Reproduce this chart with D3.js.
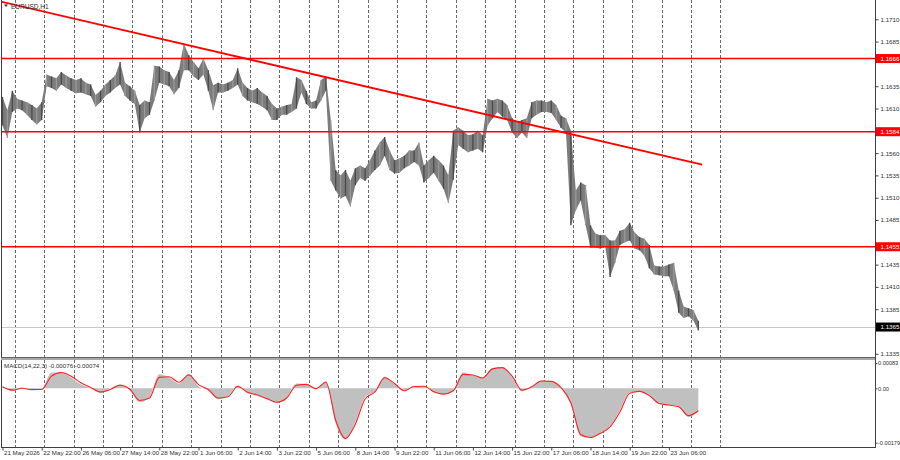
<!DOCTYPE html>
<html>
<head>
<meta charset="utf-8">
<title>EURUSD H1</title>
<script src="https://d3js.org/d3.v7.min.js"></script>
<style>
    body { margin: 0; background: #fff; }
    svg text { font-family: "Liberation Sans", Arial, sans-serif; }
</style>
</head>
<body>
<script>
    // 4-hour groups of H1 bars, 21 May 14:00 .. 23 Jun
    const priceHigh = [
        1.1623, 1.1608, 1.1630, 1.1621, 1.1619, 1.1617, 1.1614, 1.1610, 1.1617, 1.1648,
        1.1646, 1.1644, 1.1651, 1.1647, 1.1644, 1.1642, 1.1644, 1.1639, 1.1637, 1.1625,
        1.1630, 1.1637, 1.1642, 1.1647, 1.1662, 1.1639, 1.1635, 1.1630, 1.1614, 1.1619,
        1.1617, 1.1658, 1.1657, 1.1653, 1.1651, 1.1642, 1.1653, 1.1683, 1.1670, 1.1662,
        1.1655, 1.1666, 1.1653, 1.1636, 1.1639, 1.1637, 1.1639, 1.1642, 1.1655, 1.1639,
        1.1633, 1.1630, 1.1633, 1.1628, 1.1624, 1.1615, 1.1610, 1.1612, 1.1614, 1.1615,
        1.1645, 1.1642, 1.1630, 1.1617, 1.1619, 1.1642, 1.1646, 1.1597, 1.1541, 1.1535,
        1.1541, 1.1529, 1.1543, 1.1546, 1.1543, 1.1552, 1.1563, 1.1572, 1.1578, 1.1563,
        1.1552, 1.1554, 1.1557, 1.1563, 1.1563, 1.1572, 1.1546, 1.1552, 1.1557, 1.1552,
        1.1546, 1.1535, 1.1585, 1.1589, 1.1585, 1.1580, 1.1581, 1.1585, 1.1580, 1.1621,
        1.1619, 1.1621, 1.1619, 1.1614, 1.1599, 1.1594, 1.1597, 1.1599, 1.1617, 1.1619,
        1.1619, 1.1617, 1.1619, 1.1614, 1.1602, 1.1599, 1.1585, 1.1518, 1.1527, 1.1524,
        1.1479, 1.1470, 1.1468, 1.1468, 1.1462, 1.1462, 1.1473, 1.1475, 1.1482, 1.1471,
        1.1466, 1.1464, 1.1457, 1.1434, 1.1433, 1.1433, 1.1435, 1.1437, 1.1406, 1.1388,
        1.1386, 1.1384, 1.1372
    ];
    const priceLow = [
        1.1591, 1.1577, 1.1606, 1.1610, 1.1608, 1.1603, 1.1597, 1.1592, 1.1597, 1.1635,
        1.1633, 1.1630, 1.1637, 1.1633, 1.1630, 1.1627, 1.1628, 1.1626, 1.1624, 1.1612,
        1.1617, 1.1624, 1.1628, 1.1633, 1.1637, 1.1624, 1.1619, 1.1615, 1.1583, 1.1599,
        1.1603, 1.1619, 1.1639, 1.1637, 1.1635, 1.1626, 1.1633, 1.1653, 1.1653, 1.1646,
        1.1642, 1.1648, 1.1630, 1.1608, 1.1628, 1.1628, 1.1630, 1.1633, 1.1637, 1.1624,
        1.1619, 1.1617, 1.1615, 1.1612, 1.1608, 1.1597, 1.1597, 1.1603, 1.1603, 1.1606,
        1.1610, 1.1628, 1.1615, 1.1610, 1.1610, 1.1619, 1.1630, 1.1529, 1.1518, 1.1509,
        1.1512, 1.1500, 1.1524, 1.1532, 1.1529, 1.1535, 1.1541, 1.1546, 1.1557, 1.1541,
        1.1537, 1.1538, 1.1543, 1.1546, 1.1550, 1.1546, 1.1527, 1.1532, 1.1538, 1.1529,
        1.1520, 1.1504, 1.1530, 1.1569, 1.1565, 1.1561, 1.1563, 1.1565, 1.1561, 1.1591,
        1.1599, 1.1606, 1.1601, 1.1597, 1.1583, 1.1577, 1.1583, 1.1577, 1.1599, 1.1603,
        1.1606, 1.1606, 1.1605, 1.1597, 1.1588, 1.1583, 1.1479, 1.1496, 1.1507, 1.1479,
        1.1454, 1.1454, 1.1453, 1.1455, 1.1421, 1.1437, 1.1457, 1.1460, 1.1462, 1.1453,
        1.1451, 1.1445, 1.1431, 1.1424, 1.1423, 1.1422, 1.1422, 1.1406, 1.1381, 1.1375,
        1.1377, 1.1372, 1.1361
    ];
    // MACD(14,22,3), one value every 2 groups
    const macdMain = [
        0.00007, -0.00010, 0.00003, -0.00007, -0.00003, 0.00052, 0.00052, 0.00036, 0.00013, 0.00000,
        -0.00016, 0.00000, 0.00013, -0.00007, -0.00046, -0.00029, 0.00046, 0.00036, 0.00016, 0.00049,
        0.00007, -0.00007, -0.00036, -0.00026, 0.00010, -0.00016, -0.00023, -0.00036, -0.00049, -0.00029,
        0.00016, 0.00013, -0.00003, 0.00023, -0.00117, -0.00169, -0.00111, -0.00029, -0.00010, 0.00039,
        0.00013, -0.00010, 0.00007, 0.00007, -0.00013, -0.00020, -0.00007, 0.00052, 0.00042, 0.00033,
        0.00068, 0.00068, 0.00036, -0.00010, 0.00007, 0.00026, 0.00023, 0.00000, -0.00055, -0.00159,
        -0.00163, -0.00146, -0.00124, -0.00072, -0.00013, -0.00010, -0.00026, -0.00052, -0.00055, -0.00062,
        -0.00094, -0.00076
    ];
    const macdSignal = [
        0.00005, -0.00006, 0.00000, -0.00004, -0.00004, 0.00040, 0.00052, 0.00040, 0.00018, 0.00003,
        -0.00012, -0.00004, 0.00010, -0.00003, -0.00040, -0.00032, 0.00036, 0.00038, 0.00020, 0.00044,
        0.00012, -0.00004, -0.00032, -0.00028, 0.00006, -0.00013, -0.00022, -0.00034, -0.00046, -0.00032,
        0.00010, 0.00013, -0.00001, 0.00020, -0.00105, -0.00165, -0.00118, -0.00035, -0.00012, 0.00035,
        0.00016, -0.00008, 0.00006, 0.00007, -0.00011, -0.00019, -0.00008, 0.00046, 0.00044, 0.00034,
        0.00064, 0.00068, 0.00040, -0.00006, 0.00005, 0.00024, 0.00023, 0.00002, -0.00048, -0.00152,
        -0.00162, -0.00148, -0.00127, -0.00078, -0.00016, -0.00010, -0.00024, -0.00050, -0.00055, -0.00061,
        -0.00090, -0.00074
    ];
    const levels = [1.1666, 1.1584, 1.1455];
    const lastPrice = 1.1365;
    const trendLine = [{ g: -0.5, p: 1.1730 }, { g: 142.8, p: 1.1547 }];
    const priceTicks = [1.1335, 1.1360, 1.1385, 1.1410, 1.1435, 1.1460, 1.1485, 1.1510, 1.1535,
        1.1560, 1.1585, 1.1610, 1.1635, 1.1660, 1.1685, 1.1710];
    const macdTicks = [0.00083, 0, -0.00179];
    const timeLabels = ["21 May 2026", "22 May 22:00", "26 May 06:00", "27 May 14:00", "28 May 22:00",
        "1 Jun 06:00", "2 Jun 14:00", "3 Jun 22:00", "5 Jun 06:00", "8 Jun 14:00", "9 Jun 22:00",
        "11 Jun 06:00", "12 Jun 14:00", "15 Jun 22:00", "17 Jun 06:00", "18 Jun 14:00",
        "19 Jun 22:00", "23 Jun 06:00"];

    const width = 900, height = 460;
    const plotRight = 875;
    const mainTop = 0, mainBottom = 357;
    const macdTop = 360, macdBottom = 447;

    const svg = d3.select("body").append("svg")
        .attr("width", width).attr("height", height);

    const x = d3.scaleLinear().domain([0, 142]).range([2.5, 698.3]);
    const y = d3.scaleLinear().domain([1.1335, 1.1710]).range([353.8, 19.3]);
    const ym = d3.scaleLinear().domain([-0.00179, 0.00083]).range([442.7, 363.1]);

    svg.append("clipPath").attr("id", "clipMain")
        .append("rect").attr("x", 1).attr("y", mainTop).attr("width", plotRight - 1).attr("height", mainBottom - mainTop);
    svg.append("clipPath").attr("id", "clipMacd")
        .append("rect").attr("x", 1).attr("y", macdTop).attr("width", plotRight - 1).attr("height", macdBottom - macdTop);

    // day separators
    const days = d3.range(0, 25).map(k => 2.5 + 6 * k);
    [[mainTop, mainBottom], [macdTop, macdBottom]].forEach(([t, b]) => {
        svg.append("g").selectAll("line").data(days).join("line")
            .attr("x1", d => Math.round(x(d)) + 0.5).attr("x2", d => Math.round(x(d)) + 0.5)
            .attr("y1", t).attr("y2", b)
            .attr("stroke", "#6a6a6a").attr("stroke-width", 1)
            .attr("stroke-dasharray", "3,2");
    });

    const main = svg.append("g").attr("clip-path", "url(#clipMain)");

    // current price line
    main.append("line")
        .attr("x1", 1).attr("x2", plotRight)
        .attr("y1", Math.round(y(lastPrice)) + 0.5).attr("y2", Math.round(y(lastPrice)) + 0.5)
        .attr("stroke", "#c8c8c8");

    // price bars
    const bars = priceHigh.map((h, i) => ({ i, h, l: priceLow[i] }));
    main.append("path").datum(bars)
        .attr("fill", "#7c7c7c")
        .attr("d", d3.area().x(d => x(d.i)).y0(d => y(d.l)).y1(d => y(d.h)));
    main.append("g").selectAll("line").data(bars).join("line")
        .attr("x1", d => x(d.i)).attr("x2", d => x(d.i))
        .attr("y1", d => y(d.h)).attr("y2", d => y(d.l))
        .attr("stroke", (d, i) => i % 2 ? "#9a9a9a" : "#4a4a4a").attr("stroke-width", 1.3);

    // horizontal levels
    main.selectAll(".lvl").data(levels).join("line")
        .attr("x1", 1).attr("x2", plotRight)
        .attr("y1", d => y(d)).attr("y2", d => y(d))
        .attr("stroke", "#ff0000").attr("stroke-width", 1.6);

    // trend line
    main.append("line")
        .attr("x1", x(trendLine[0].g)).attr("y1", y(trendLine[0].p))
        .attr("x2", x(trendLine[1].g)).attr("y2", y(trendLine[1].p))
        .attr("stroke", "#ff0000").attr("stroke-width", 1.8);

    // MACD
    const macd = svg.append("g").attr("clip-path", "url(#clipMacd)");
    const mPts = macdMain.map((v, k) => ({ g: 2 * k, v, s: macdSignal[k] }));
    macd.append("path").datum(mPts)
        .attr("fill", "#c0c0c0")
        .attr("d", d3.area().curve(d3.curveMonotoneX).x(d => x(d.g)).y0(ym(0)).y1(d => ym(d.v)));
    macd.append("path").datum(mPts)
        .attr("fill", "none").attr("stroke", "#ff2020").attr("stroke-width", 1.1)
        .attr("d", d3.line().curve(d3.curveMonotoneX).x(d => x(d.g)).y(d => ym(d.s)));

    // frames
    svg.append("line").attr("x1", 1.5).attr("x2", 1.5).attr("y1", 0).attr("y2", macdBottom)
        .attr("stroke", "#404040");
    svg.append("rect").attr("x", 1).attr("y", mainBottom).attr("width", plotRight - 1).attr("height", 3)
        .attr("fill", "#a8a8a8");
    svg.append("line").attr("x1", 1).attr("x2", plotRight).attr("y1", mainBottom + 0.5).attr("y2", mainBottom + 0.5)
        .attr("stroke", "#606060");
    svg.append("line").attr("x1", 1).attr("x2", plotRight + 1).attr("y1", macdBottom + 0.5).attr("y2", macdBottom + 0.5)
        .attr("stroke", "#404040");

    // level labels on axis
    const tags = levels.map(v => ({ v, bg: "#ff0000" })).concat([{ v: lastPrice, bg: "#000000" }]);
    const freeTicks = priceTicks.filter(t => tags.every(g => Math.abs(y(t) - y(g.v)) > 8));

    // price axis
    const pAxis = svg.append("g").attr("transform", `translate(${plotRight + 0.5},0)`)
        .call(d3.axisRight(y).tickValues(freeTicks).tickSize(3).tickSizeOuter(0).tickFormat(d3.format(".4f")));
    pAxis.select(".domain").attr("d", `M0,0V${macdBottom}`).attr("stroke", "#404040");
    pAxis.selectAll(".tick line").attr("stroke", "#404040");
    pAxis.selectAll("text").attr("x", 5).attr("font-size", 6.2).attr("fill", "#303030");

    const mAxis = svg.append("g").attr("transform", `translate(${plotRight + 0.5},0)`)
        .call(d3.axisRight(ym).tickValues(macdTicks).tickSize(2).tickSizeOuter(0)
            .tickFormat(d => d === 0 ? "0.00" : d.toFixed(5)));
    mAxis.select(".domain").remove();
    mAxis.selectAll(".tick line").attr("stroke", "#404040");
    mAxis.selectAll("text").attr("x", 2.5).attr("font-size", 5.6).attr("fill", "#303030");

    const tag = svg.append("g").selectAll("g").data(tags).join("g")
        .attr("transform", d => `translate(${plotRight + 1},${y(d.v)})`);
    tag.append("rect").attr("x", 0).attr("y", -4.5).attr("width", 24).attr("height", 9)
        .attr("fill", d => d.bg);
    tag.append("text").attr("x", 4.5).attr("dy", "0.34em").attr("font-size", 6.2)
        .attr("fill", "#fff").text(d => d.v.toFixed(4));

    // time axis
    const tAxis = svg.append("g").attr("transform", `translate(0,${macdBottom + 0.5})`)
        .call(d3.axisBottom(x).tickValues(timeLabels.map((t, k) => 8 * k)).tickSize(3).tickSizeOuter(0)
            .tickFormat((d, k) => timeLabels[k]));
    tAxis.select(".domain").remove();
    tAxis.selectAll(".tick line").attr("stroke", "#404040");
    tAxis.selectAll("text").attr("text-anchor", "start").attr("x", 1).attr("y", 3)
        .attr("font-size", 6.2).attr("fill", "#303030");

    // titles
    svg.append("path").attr("d", "M4,4.5L8,4.5L6,7Z").attr("fill", "#303030");
    svg.append("text").attr("x", 11).attr("y", 8.5).attr("font-size", 6.5).attr("fill", "#303030")
        .text("EURUSD,H1");
    svg.append("text").attr("x", 4).attr("y", 368).attr("font-size", 6.2).attr("fill", "#303030")
        .text("MACD(14,22,3) -0.00076 -0.00074");
</script>
</body>
</html>
